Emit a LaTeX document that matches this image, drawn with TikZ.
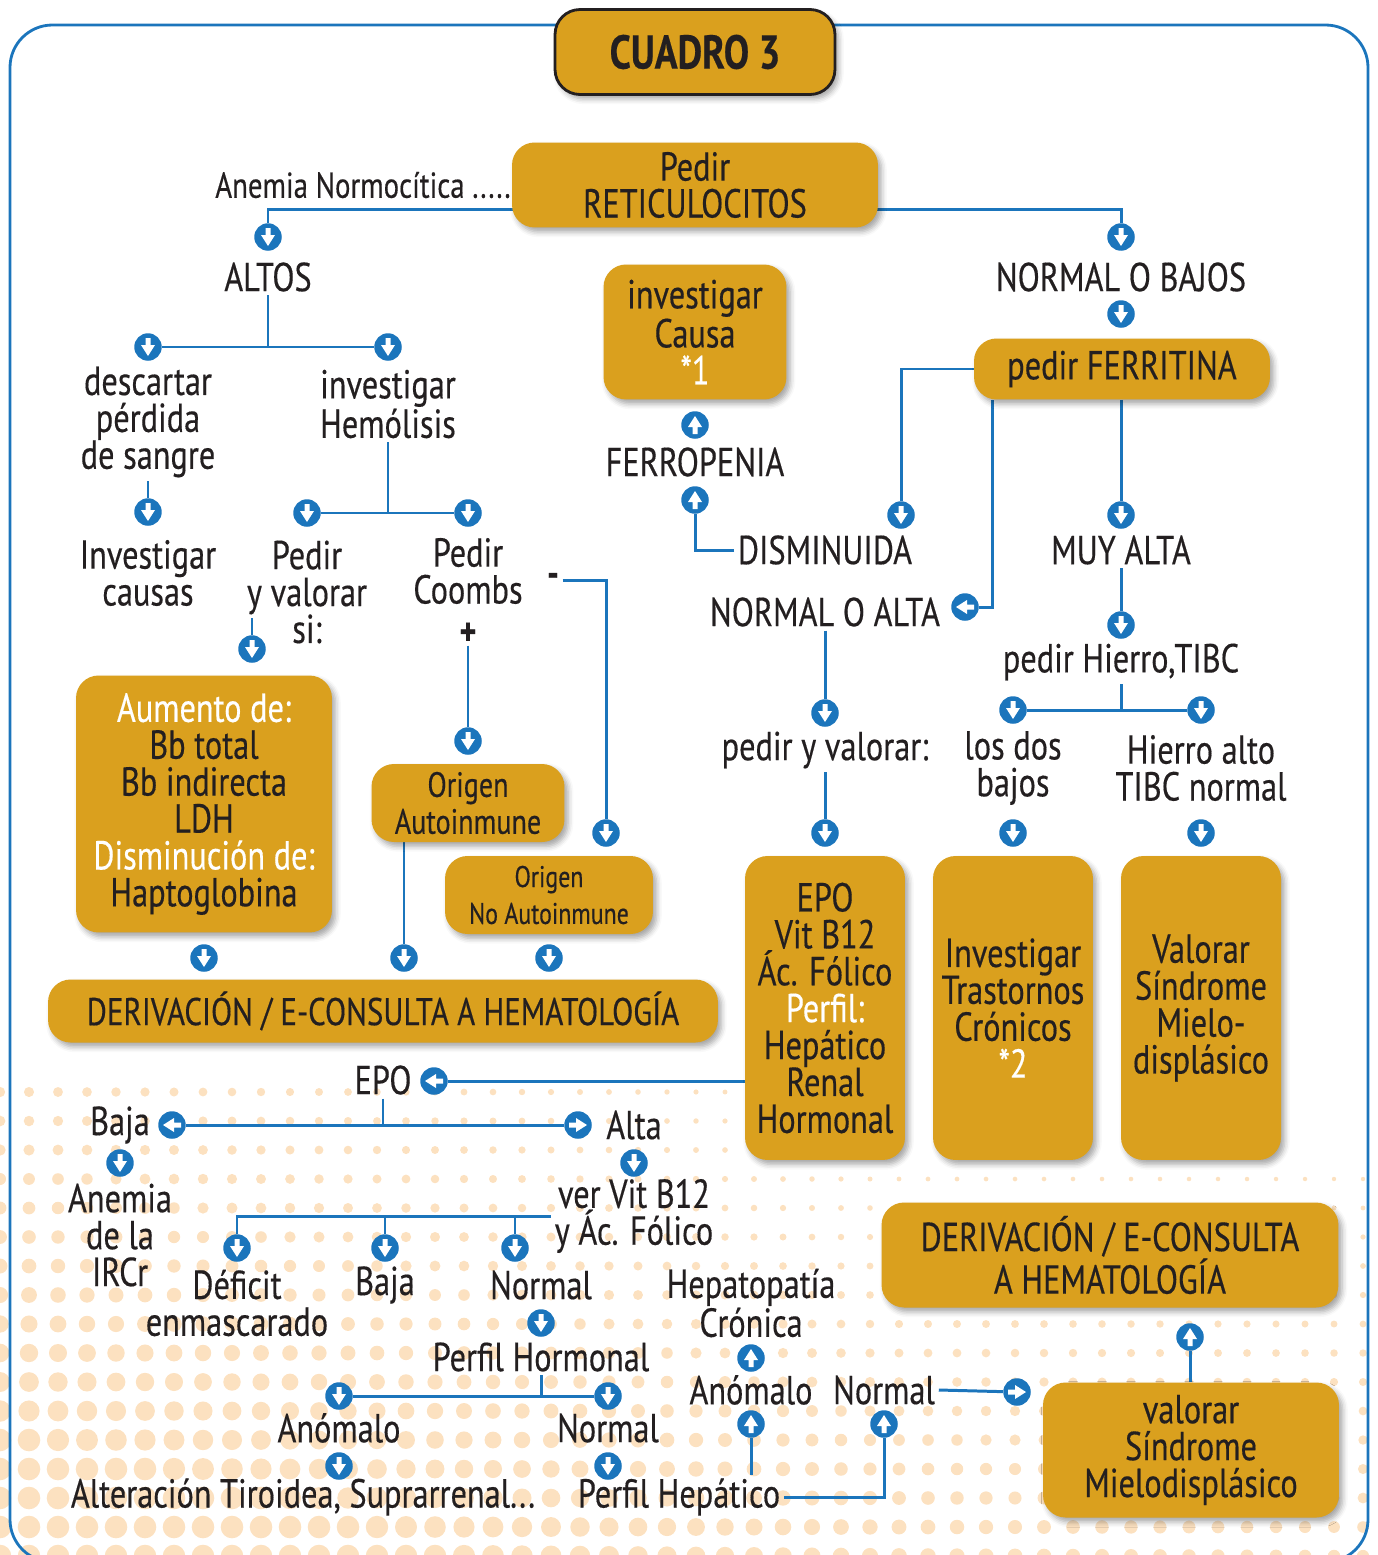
\documentclass[tikz,border=0pt]{standalone}
\usepackage{fontspec}
\setmainfont{PT Sans}[FakeStretch=0.8,FakeBold=0.35]
\usetikzlibrary{positioning,calc,shadows,shadows.blur}
\definecolor{gold}{RGB}{218,160,30}
\definecolor{linkblue}{RGB}{27,117,188}
\definecolor{peach}{RGB}{252,225,192}
\definecolor{inkgray}{RGB}{35,31,32}
\pgfdeclarelayer{dots}
\pgfdeclarelayer{bg}
\pgfsetlayers{dots,bg,main}
\newcommand{\mainsize}{\fontsize{23}{21}\selectfont}
\newcommand{\smallsize}{\fontsize{20.5}{21}\selectfont}
\newcommand{\wht}[1]{\textcolor{white}{#1}}

\begin{document}
\begin{tikzpicture}[x=0.02cm,y=-0.02cm,
    txt/.style={align=center,font=\mainsize,text=inkgray,inner sep=2pt},
    goldbox/.style={txt,fill=gold,rounded corners=0.45cm,
      blur shadow={shadow xshift=2pt,shadow yshift=-2.5pt,shadow blur radius=3pt,shadow opacity=35}},
    link/.style={draw=linkblue,line width=1.7pt},
    tipmark/.style={circle,fill=linkblue,inner sep=0pt,minimum size=0.55cm}]
\useasboundingbox (0,0) rectangle (1377,1555);
%Nodes
\node[goldbox,draw=inkgray,line width=1.6pt,rounded corners=0.5cm,minimum width=5.6cm,minimum height=1.7cm,
      font=\fontsize{27}{28}\selectfont\bfseries] (cuadro) at (695,52) {CUADRO 3};
\node[txt,font=\smallsize,anchor=east,inner sep=0pt] (anemia) at (511,185) {Anemia Normocítica .....};
\node[goldbox,minimum width=7.32cm,minimum height=1.7cm] (retic) at (695,185) {Pedir\\RETICULOCITOS};
\node[txt] (altos) at (268,277) {ALTOS};
\node[txt] (nobajos) at (1121,277) {NORMAL O BAJOS};
\node[goldbox,minimum width=3.66cm,minimum height=2.7cm] (causa) at (695,332) {investigar\\Causa\\\wht{*1}};
\node[goldbox,minimum width=5.92cm,minimum height=1.22cm] (ferri) at (1122,369) {pedir FERRITINA};
\node[txt] (desc) at (148,422) {descartar\\pérdida\\de sangre};
\node[txt] (invh) at (388,404) {investigar\\Hemólisis};
\node[txt] (ferrop) at (695,462) {FERROPENIA};
\node[txt] (invc) at (148,573) {Investigar\\causas};
\node[txt] (pval) at (307,592) {Pedir\\y valorar\\si:};
\node[txt] (coombs) at (468,571) {Pedir\\Coombs};
\node[txt,font=\mainsize\bfseries] (minus) at (553,580) {-};
\node[txt,font=\mainsize\bfseries,inner sep=0pt] (plus) at (468,634) {+};
\node[txt] (dism) at (825,550) {DISMINUIDA};
\node[txt] (muy) at (1121,550) {MUY ALTA};
\node[txt] (noalta) at (825,612) {NORMAL O ALTA};
\node[txt] (hierro) at (1121,662) {pedir Hierro,TIBC};
\node[txt] (pyv) at (825,750) {pedir y valorar:};
\node[txt] (dosb) at (1013,768) {los dos\\bajos};
\node[txt] (halto) at (1201,768) {Hierro alto\\TIBC normal};
\node[goldbox,minimum width=5.12cm,minimum height=5.14cm] (aum) at (204,804)
  {\wht{Aumento de:}\\Bb total\\Bb indirecta\\LDH\\\wht{Disminución de:}\\Haptoglobina};
\node[goldbox,font=\fontsize{20}{21}\selectfont,minimum width=3.86cm,minimum height=1.56cm] (autoi) at (468,803) {Origen\\Autoinmune};
\node[goldbox,font=\fontsize{17}{21}\selectfont,minimum width=4.16cm,minimum height=1.56cm] (noauto) at (549,895) {Origen\\No Autoinmune};
\node[goldbox,minimum width=3.2cm,minimum height=6.08cm] (epob) at (825,1008)
  {EPO\\Vit B12\\Ác. Fólico\\\wht{Perfil:}\\Hepático\\Renal\\Hormonal};
\node[goldbox,minimum width=3.2cm,minimum height=6.08cm] (trast) at (1013,1008) {Investigar\\Trastornos\\Crónicos\\\wht{*2}};
\node[goldbox,minimum width=3.2cm,minimum height=6.08cm] (mielo) at (1201,1008) {Valorar\\Síndrome\\Mielo-\\displásico};
\node[goldbox,font=\fontsize{22}{21}\selectfont,minimum width=13.4cm,minimum height=1.26cm] (deriv) at (383,1011) {DERIVACIÓN / E-CONSULTA A HEMATOLOGÍA};
\node[txt] (epo) at (383,1080) {EPO};
\node[txt] (baja) at (120,1125) {Baja};
\node[txt] (alta) at (634,1125) {Alta};
\node[txt] (ircr) at (120,1235) {Anemia\\de la\\IRCr};
\node[txt] (vitb) at (634,1216) {ver Vit B12\\y Ác. Fólico};
\node[txt] (defic) at (237,1303) {Déficit\\enmascarado};
\node[txt] (bajab) at (385,1285) {Baja};
\node[txt] (normal) at (541,1285) {Normal};
\node[txt] (hepat) at (751,1303) {Hepatopatía\\Crónica};
\node[goldbox,minimum width=9.14cm,minimum height=2.1cm] (derivb) at (1110,1255) {DERIVACIÓN / E-CONSULTA\\A HEMATOLOGÍA};
\node[txt] (phorm) at (541,1357) {Perfil Hormonal};
\node[txt] (anom) at (339,1428) {Anómalo};
\node[txt] (normb) at (608,1428) {Normal};
\node[txt] (anomr) at (751,1390) {Anómalo};
\node[txt] (normr) at (884,1390) {Normal};
\node[txt] (alter) at (303,1497) {Alteración Tiroidea, Suprarrenal...};
\node[txt] (phep) at (679,1497) {Perfil Hepático};
\node[goldbox,minimum width=5.92cm,minimum height=2.7cm] (valor) at (1191,1450) {valorar\\Síndrome\\Mielodisplásico};
\coordinate (pvalout) at (252,618);

%Arrow marks (0 down, 90 right, 180 up, -90 left)
\foreach \n/\mx/\my/\r in {c1/268/237/0, c2/1121/237/0, c3/1121/314/0, c4/148/347/0, c5/388/347/0,
    c6/148/512/0, c7/307/513/0, c8/468/513/0, c9/252/649/0, c10/468/741/0, c11/606/833/0,
    c12/204/958/0, c13/404/958/0, c14/549/958/0, c15/695/425/180, c16/695/500/180, c17/901/515/0,
    c18/965/607/-90, c19/1121/515/0, c20/1121/625/0, c21/1013/710/0, c22/1201/710/0,
    c23/825/713/0, c24/825/833/0, c25/1013/833/0, c26/1201/833/0, c27/434/1081/-90,
    c28/172/1125/-90, c29/578/1125/90, c30/120/1163/0, c31/634/1163/0, c32/237/1248/0,
    c33/385/1248/0, c34/515/1248/0, c35/541/1323/0, c36/339/1396/0, c37/608/1396/0,
    c38/339/1466/0, c39/608/1466/0, c40/751/1358/180, c41/751/1424/180, c42/884/1424/180,
    c43/1017/1392/90, c44/1190/1337/180}{
  \node[tipmark] (\n) at (\mx,\my) {};
  \fill[white,shift={(\mx,\my)},rotate=\r]
    (-2.5,-9) -- (2.5,-9) -- (2.5,-2) -- (7,-2) -- (0,9) -- (-7,-2) -- (-2.5,-2) -- cycle;
}

%Connectors
\begin{pgfonlayer}{bg}
\draw[link] ([yshift=-0.49cm]retic.center) -| (c1);
\draw[link] ([yshift=-0.49cm]retic.center) -| (c2);
\draw[link] (altos.south) -- (altos.south |- c4);
\draw[link] (c4) -- (c5);
\draw[link] (desc) -- (c6);
\draw[link] (invh.south) -- (invh.south |- c7);
\draw[link] (c7) -- (c8);
\draw[link] (pvalout) -- (c9);
\draw[link] (plus) -- (c10);
\draw[link] (minus.east) -| (c11);
\draw[link] (autoi.south -| c13) -- (c13);
\draw[link] (dism.west) -| (c16);
\draw[link] (ferri.west) -| (c17);
\draw[link] ([xshift=0.38cm]ferri.south west) |- (c18);
\draw[link] (ferri.south -| c19) -- (c19);
\draw[link] (muy) -- (c20);
\draw[link] (hierro.south) -- (hierro.south |- c21);
\draw[link] (c21) -- (c22);
\draw[link] (noalta) -- (c23);
\draw[link] (pyv) -- (c24);
\draw[link] (epob.west |- c27) -- (c27);
\draw[link] (epo.south) -- (epo.south |- c28);
\draw[link] (c28) -- (c29);
\draw[link] (vitb.west) -| (c32);
\draw[link] (c33 |- vitb.west) -- (c33);
\draw[link] (c34 |- vitb.west) -- (c34);
\draw[link] (phorm.south) -- (phorm.south |- c36);
\draw[link] (c36) -- (c37);
\draw[link] (c41 |- phep.north) -- (c41);
\draw[link] (phep.east) -| (c42);
\draw[link] (normr.east) -- (c43);
\draw[link] (valor.north -| c44) -- (c44);
% outer frame
\draw[linkblue,line width=1.6pt,rounded corners=0.85cm] (10,25) rectangle (1368,1562);
\end{pgfonlayer}

% halftone in the lower left
\begin{pgfonlayer}{dots}
\foreach \i in {0,...,16}{
  \foreach \j in {0,...,47}{
    \pgfmathsetmacro{\py}{1092+29*\i}
    \pgfmathsetmacro{\px}{29*\j}
    \pgfmathsetmacro{\pq}{min(1,(\py-1080)/470)}
    \pgfmathsetmacro{\pv}{min(1,max(0,0.35*(1-\px/900))+(\pq^1.5)*(1-0.55*\px/1377))}
    \pgfmathsetmacro{\pr}{1.8+9.5*\pv}
    \ifdim\pv pt>0.04pt \fill[peach] (\px,\py) circle[radius=\pr]; \fi
  }
}
\end{pgfonlayer}
\end{tikzpicture}
\end{document}
